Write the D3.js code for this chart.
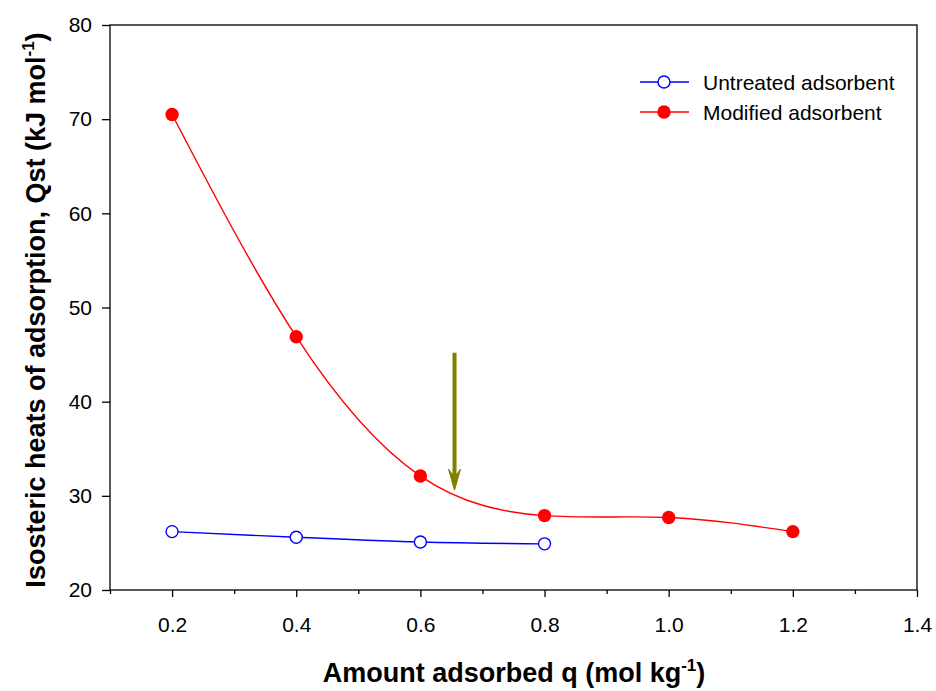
<!DOCTYPE html>
<html>
<head>
<meta charset="utf-8">
<script src="https://cdn.jsdelivr.net/npm/d3@7"></script>
<style>
  body { margin: 0; background: #fff; }
  svg { display: block; font-family: "Liberation Sans", Arial, sans-serif; }
</style>
</head>
<body>
<svg id="chart" width="936" height="691"></svg>
<script>
// Amount adsorbed (mol/kg) and isosteric heats (kJ/mol)
const untreatedQ = [0.2, 0.4, 0.6, 0.8];
const untreatedQst = [26.2, 25.6, 25.1, 24.9];
const modifiedQ = [0.2, 0.4, 0.6, 0.8, 1.0, 1.2];
const modifiedQst = [70.5, 46.9, 32.1, 27.9, 27.7, 26.2];
const xTicks = [0.2, 0.4, 0.6, 0.8, 1.0, 1.2, 1.4];
const xMinorTicks = [0.1, 0.3, 0.5, 0.7, 0.9, 1.1, 1.3];
const yTicks = [20, 30, 40, 50, 60, 70, 80];
const seriesNames = ["Untreated adsorbent", "Modified adsorbent"];
// Arrow marking the transition on the modified curve
const arrowQ = 0.655;
const arrowFrom = 45.2;
const arrowTo = 30.6;

const svg = d3.select("#chart");
const plotLeft = 110, plotRight = 917, plotTop = 25, plotBottom = 590;

const x = d3.scaleLinear().domain([0.1, 1.4]).range([plotLeft, plotRight]);
const y = d3.scaleLinear().domain([20, 80]).range([plotBottom, plotTop]);

// Frame
svg.append("rect")
  .attr("x", plotLeft).attr("y", plotTop)
  .attr("width", plotRight - plotLeft).attr("height", plotBottom - plotTop)
  .attr("fill", "none").attr("stroke", "#000").attr("stroke-width", 1.3);

// X axis
const xAxis = svg.append("g").attr("transform", `translate(0,${plotBottom})`)
  .call(d3.axisBottom(x).tickValues(xTicks).tickFormat(d3.format(".1f")).tickSize(7).tickPadding(20));
xAxis.select(".domain").remove();
xAxis.selectAll(".tick line").attr("stroke-width", 1.3);
xAxis.selectAll(".tick text").attr("font-size", 21).attr("fill", "#000")
  .attr("font-family", "Liberation Sans, Arial, sans-serif");

const xMinor = svg.append("g").attr("transform", `translate(0,${plotBottom})`)
  .call(d3.axisBottom(x).tickValues(xMinorTicks).tickFormat("").tickSize(4));
xMinor.select(".domain").remove();
xMinor.selectAll(".tick line").attr("stroke-width", 1.3);

// Y axis
const yAxis = svg.append("g").attr("transform", `translate(${plotLeft},0)`)
  .call(d3.axisLeft(y).tickValues(yTicks).tickSize(8).tickPadding(10));
yAxis.select(".domain").remove();
yAxis.selectAll(".tick line").attr("stroke-width", 1.3);
yAxis.selectAll(".tick text").attr("font-size", 21).attr("fill", "#000")
  .attr("font-family", "Liberation Sans, Arial, sans-serif");

// Axis titles
const xTitle = svg.append("text")
  .attr("x", 514).attr("y", 682)
  .attr("text-anchor", "middle")
  .attr("font-size", 27).attr("font-weight", "bold");
xTitle.append("tspan").text("Amount adsorbed q (mol kg");
xTitle.append("tspan").attr("font-size", 17).attr("dy", -11).text("-1");
xTitle.append("tspan").attr("dy", 11).text(")");

const yTitle = svg.append("text")
  .attr("transform", "translate(45,310) rotate(-90)")
  .attr("text-anchor", "middle")
  .attr("font-size", 27).attr("font-weight", "bold");
yTitle.append("tspan").text("Isosteric heats of adsorption, Qst (kJ mol");
yTitle.append("tspan").attr("font-size", 17).attr("dy", -11).text("-1");
yTitle.append("tspan").attr("dy", 11).text(")");

// Series
const untreated = untreatedQ.map((q, i) => [q, untreatedQst[i]]);
const modified = modifiedQ.map((q, i) => [q, modifiedQst[i]]);

const line = d3.line().x(d => x(d[0])).y(d => y(d[1])).curve(d3.curveNatural);

svg.append("path").datum(untreated).attr("d", line)
  .attr("fill", "none").attr("stroke", "#0000ff").attr("stroke-width", 1.4);
svg.append("path").datum(modified).attr("d", line)
  .attr("fill", "none").attr("stroke", "#ff0000").attr("stroke-width", 1.4);

svg.selectAll(".pt-u").data(untreated).join("circle")
  .attr("cx", d => x(d[0])).attr("cy", d => y(d[1])).attr("r", 6)
  .attr("fill", "#fff").attr("stroke", "#0000ff").attr("stroke-width", 1.4);
svg.selectAll(".pt-m").data(modified).join("circle")
  .attr("cx", d => x(d[0])).attr("cy", d => y(d[1])).attr("r", 6.7)
  .attr("fill", "#ff0000");

// Arrow
const ax = x(arrowQ), ay0 = y(arrowFrom), ay1 = y(arrowTo);
svg.append("line")
  .attr("x1", ax).attr("x2", ax).attr("y1", ay0).attr("y2", ay1 - 6)
  .attr("stroke", "#808000").attr("stroke-width", 4);
svg.append("path")
  .attr("d", `M${ax - 6},${ay1 - 21} L${ax},${ay1} L${ax + 6},${ay1 - 21} L${ax},${ay1 - 13} Z`)
  .attr("fill", "#808000").attr("stroke", "#808000").attr("stroke-width", 1);

// Legend
const legend = svg.append("g");
const legendRows = [
  { name: seriesNames[0], color: "#0000ff", open: true, y: 82 },
  { name: seriesNames[1], color: "#ff0000", open: false, y: 112 }
];
legendRows.forEach(r => {
  legend.append("line").attr("x1", 640).attr("x2", 689).attr("y1", r.y).attr("y2", r.y)
    .attr("stroke", r.color).attr("stroke-width", 1.4);
  legend.append("circle").attr("cx", 664).attr("cy", r.y).attr("r", r.open ? 6 : 6.7)
    .attr("fill", r.open ? "#fff" : r.color)
    .attr("stroke", r.open ? r.color : "none").attr("stroke-width", 1.4);
  legend.append("text").attr("x", 703).attr("y", r.y + 7.5)
    .attr("font-size", 21).text(r.name);
});
</script>
</body>
</html>
